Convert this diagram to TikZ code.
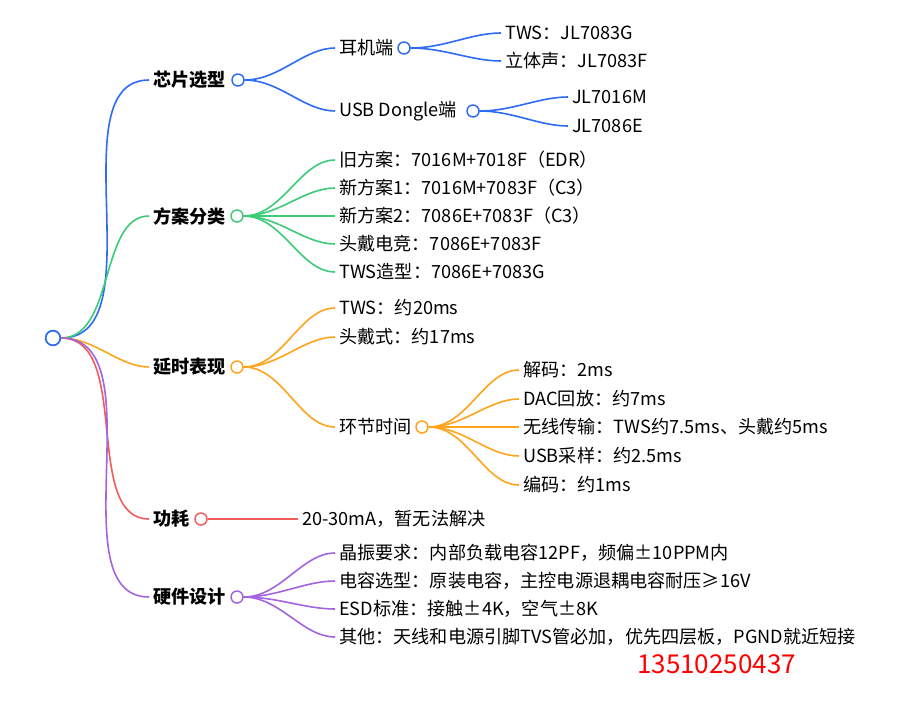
\documentclass[tikz,border=0pt]{standalone}
\usepackage{fontspec}
\setmainfont{Noto Sans CJK SC}
\begin{document}
\begin{tikzpicture}[x=0.75pt,y=-0.75pt,
  t/.style={anchor=west,inner sep=0pt,font=\fontsize{13.6}{15}\selectfont},
  tb/.style={t,font=\fontsize{13.6}{15}\selectfont\bfseries},
  dot/.style={circle,draw=#1,fill=white,line width=1.1pt,inner sep=0pt,minimum size=9pt},
  ln/.style={draw=#1,line width=1.2pt,shorten >=3pt},
  cc/.style={out=0,in=180,looseness=0.9}]
\definecolor{cb}{HTML}{2D6BF5}\definecolor{cg}{HTML}{3DCB77}
\definecolor{co}{HTML}{FFA41C}\definecolor{cr}{HTML}{F25C5C}\definecolor{cp}{HTML}{A364E0}
\fill[white] (0,0) rectangle (902,700);
% root
\node[circle,draw=cb,line width=1.3pt,inner sep=0pt,minimum size=11pt] (root) at (53,338) {};
% level1
\node[tb] (a) at (153,80) {芯片选型}; \node[dot=cb] (ac) at (238,80) {};
\node[tb] (b) at (153,216) {方案分类}; \node[dot=cg] (bc) at (237,216) {};
\node[tb] (c) at (153,367) {延时表现}; \node[dot=co] (cc) at (237,367) {};
\node[tb] (d) at (153,519) {功耗}; \node[dot=cr] (dc) at (201,519) {};
\node[tb] (e) at (153,597) {硬件设计}; \node[dot=cp] (ec) at (237,597) {};
\draw[ln=cb] (root.east) to[cc] (a.west);
\draw[ln=cg] (root.east) to[cc] (b.west);
\draw[ln=co] (root.east) to[cc] (c.west);
\draw[ln=cr] (root.east) to[cc] (d.west);
\draw[ln=cp] (root.east) to[cc] (e.west);
% chips
\node[t] (a1) at (339,48) {耳机端}; \node[dot=cb] (a1c) at (404,48) {};
\node[t] (a2) at (339,111) {USB Dongle端}; \node[dot=cb] (a2c) at (473,111) {};
\draw[ln=cb] (ac.east) to[cc] (a1.west); \draw[ln=cb] (ac.east) to[cc] (a2.west);
\node[t] (a11) at (505,33) {TWS：JL7083G};
\node[t] (a12) at (505,61) {立体声：JL7083F};
\draw[ln=cb] (a1c.east) to[cc] (a11.west); \draw[ln=cb] (a1c.east) to[cc] (a12.west);
\node[t] (a21) at (572,97) {JL7016M};
\node[t] (a22) at (572,126) {JL7086E};
\draw[ln=cb] (a2c.east) to[cc] (a21.west); \draw[ln=cb] (a2c.east) to[cc] (a22.west);
% schemes
\foreach \n/\y/\s in {1/160/{旧方案：7016M+7018F（EDR）},2/188/{新方案1：7016M+7083F（C3）},3/216/{新方案2：7086E+7083F（C3）},4/244/{头戴电竞：7086E+7083F},5/272/{TWS造型：7086E+7083G}}{
  \node[t] (b\n) at (339,\y) {\s}; \draw[ln=cg] (bc.east) to[cc] (b\n.west);}
% latency
\node[t] (c1) at (339,308) {TWS：约20ms};
\node[t] (c2) at (339,337) {头戴式：约17ms};
\node[t] (c3) at (339,427) {环节时间}; \node[dot=co] (c3c) at (422,427) {};
\foreach \n in {1,2,3}{\draw[ln=co] (cc.east) to[cc] (c\n.west);}
\foreach \n/\y/\s in {1/370/{解码：2ms},2/399/{DAC回放：约7ms},3/427/{无线传输：TWS约7.5ms、头戴约5ms},4/456/{USB采样：约2.5ms},5/485/{编码：约1ms}}{
  \node[t] (c3\n) at (523,\y) {\s}; \draw[ln=co] (c3c.east) to[cc] (c3\n.west);}
% power
\node[t] (d1) at (302,519) {20-30mA，暂无法解决};
\draw[ln=cr] (dc.east) -- (d1.west);
% hardware
\foreach \n/\y/\s in {1/553/{晶振要求：内部负载电容12PF，频偏±10PPM内},2/581/{电容选型：原装电容，主控电源退耦电容耐压≥16V},3/609/{ESD标准：接触±4K，空气±8K},4/637/{其他：天线和电源引脚TVS管必加，优先四层板，PGND就近短接}}{
  \node[t] (e\n) at (339,\y) {\s}; \draw[ln=cp] (ec.east) to[cc] (e\n.west);}
\node[anchor=west,inner sep=0pt,text=red,font=\fontsize{19.5}{21}\selectfont] (ph) at (637,664) {13510250437};
\end{tikzpicture}
\end{document}
